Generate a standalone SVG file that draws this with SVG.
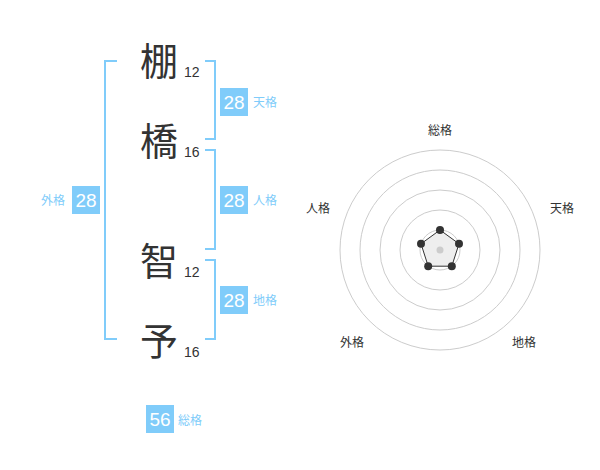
<svg xmlns="http://www.w3.org/2000/svg" width="600" height="470" viewBox="0 0 600 470">
<style>
.ch{font-family:"Noto Sans CJK JP","Noto Sans CJK SC",sans-serif;font-size:38px;fill:#333;text-anchor:middle}
.num{font-family:"Liberation Sans",Arial,sans-serif;font-size:14px;fill:#333}
.br{fill:none;stroke:#80ccfa;stroke-width:2}
.box{fill:#80ccfa}
.bn{font-family:"Liberation Sans",Arial,sans-serif;font-size:19px;fill:#fff;text-anchor:middle}
.bl{font-family:"Noto Sans CJK JP","Noto Sans CJK SC",sans-serif;font-size:12px;fill:#80ccfa}
.ring{fill:none;stroke:#ccc;stroke-width:1}
.lab{font-family:"Noto Sans CJK JP","Noto Sans CJK SC",sans-serif;font-size:12px;fill:#333;text-anchor:middle}
.dot{fill:#333}
</style>
<g id="connectors">
<path class="br" d="M117,61 H105 V339 H117"/>
<path class="br" d="M205,61 H215 V139 H205"/>
<path class="br" d="M205,150 H215 V249 H205"/>
<path class="br" d="M205,260 H215 V339 H205"/>
</g>
<g id="char1"><text class="ch" x="159" y="75">棚</text><text class="num" x="184" y="77">12</text></g>
<g id="char2"><text class="ch" x="159" y="155">橋</text><text class="num" x="184" y="157">16</text></g>
<g id="char3"><text class="ch" x="159" y="275">智</text><text class="num" x="184" y="277">12</text></g>
<g id="char4"><text class="ch" x="159" y="355">予</text><text class="num" x="184" y="357">16</text></g>
<g id="tenkaku"><rect class="box" x="220" y="88" width="28" height="28"/><text class="bn" x="234" y="109">28</text><text class="bl" x="253" y="107">天格</text></g>
<g id="jinkaku"><rect class="box" x="220" y="186" width="28" height="28"/><text class="bn" x="234" y="207">28</text><text class="bl" x="253" y="205">人格</text></g>
<g id="chikaku"><rect class="box" x="220" y="286" width="28" height="28"/><text class="bn" x="234" y="307">28</text><text class="bl" x="253" y="305">地格</text></g>
<g id="gaikaku"><rect class="box" x="72" y="186" width="28" height="28"/><text class="bn" x="86" y="207">28</text><text class="bl" x="41" y="205">外格</text></g>
<g id="soukaku"><rect class="box" x="146" y="405" width="28" height="28"/><text class="bn" x="160" y="426">56</text><text class="bl" x="178" y="425">総格</text></g>
<g id="radar">
<circle class="ring" cx="440" cy="250" r="100"/>
<circle class="ring" cx="440" cy="250" r="80"/>
<circle class="ring" cx="440" cy="250" r="60"/>
<circle class="ring" cx="440" cy="250" r="40"/>
<circle class="ring" cx="440" cy="250" r="20"/>
<polygon points="440,230 459,243.8 451.8,266.2 428.2,266.2 421,243.8" fill="#eee" stroke="#333" stroke-width="1"/>
<circle cx="440" cy="250" r="3.5" fill="#ccc"/>
<circle class="dot" cx="440" cy="230" r="4"/>
<circle class="dot" cx="459" cy="243.8" r="4"/>
<circle class="dot" cx="451.8" cy="266.2" r="4"/>
<circle class="dot" cx="428.2" cy="266.2" r="4"/>
<circle class="dot" cx="421" cy="243.8" r="4"/>
<text class="lab" x="440" y="135">総格</text>
<text class="lab" x="562" y="213">天格</text>
<text class="lab" x="318" y="213">人格</text>
<text class="lab" x="352" y="347">外格</text>
<text class="lab" x="524" y="347">地格</text>
</g>
</svg>
